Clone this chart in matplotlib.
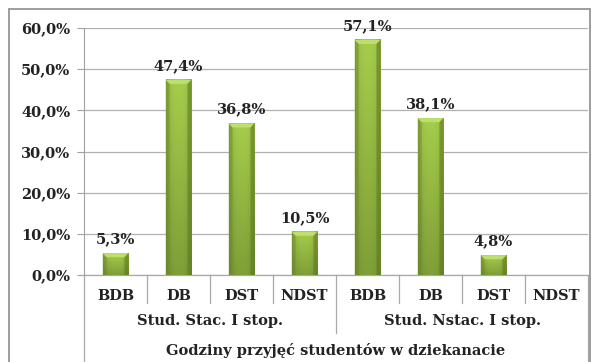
import matplotlib
matplotlib.use("Agg")
import matplotlib.pyplot as plt
import numpy as np
from matplotlib.colors import to_rgb
from matplotlib.patches import Polygon, Rectangle
from matplotlib.lines import Line2D

# Data
categories = ["BDB", "DB", "DST", "NDST", "BDB", "DB", "DST", "NDST"]
groups = ["Stud. Stac. I stop.", "Stud. Nstac. I stop."]
values = [5.3, 47.4, 36.8, 10.5, 57.1, 38.1, 4.8, 0.0]
title = "Godziny przyjęć studentów w dziekanacie"

plt.rcParams["font.family"] = "DejaVu Serif"
plt.rcParams["font.weight"] = "bold"

W, H = 593, 362
fig = plt.figure(figsize=(W / 100, H / 100), dpi=100)
ax = fig.add_axes([84 / W, 1 - 275 / H, (588 - 84) / W, (275 - 28) / H])

n = len(categories)
x = np.arange(n)
bw = 0.41
ax.set_xlim(-0.5, n - 0.5)
ax.set_ylim(0, 60)

# bar body: lighter at the top, darker towards the base and the side edges
top_c = np.array(to_rgb("#a6cd4c"))
bot_c = np.array(to_rgb("#7f9f38"))
vy = np.linspace(0, 1, 64)[:, None, None]          # 0 = top row
body = top_c * (1 - vy) + bot_c * vy
hx = np.linspace(-1, 1, 32)
side = 1 - 0.18 * np.abs(hx) ** 3
body = np.clip(body * side[None, :, None], 0, 1)

px_x = n / (588 - 84)            # data units per pixel, x
px_y = 60 / (275 - 28)           # data units per pixel, y
bev = 4

for xi, v in zip(x, values):
    if v <= 0:
        continue
    x0, x1 = xi - bw / 2, xi + bw / 2
    ax.imshow(body, aspect="auto", extent=(x0, x1, 0, v), origin="upper",
              zorder=3, interpolation="bilinear")
    dx, dy = bev * px_x, bev * px_y
    ax.add_patch(Polygon([(x0, v), (x1, v), (x1 - dx, v - dy), (x0 + dx, v - dy)],
                         closed=True, facecolor="#bde06c", edgecolor="none", zorder=4))
    ax.add_patch(Polygon([(x0, 0), (x0, v), (x0 + dx, v - dy), (x0 + dx, 0)],
                         closed=True, facecolor="#6e8c2c", edgecolor="none",
                         alpha=0.45, zorder=4))
    ax.add_patch(Polygon([(x1, 0), (x1, v), (x1 - dx, v - dy), (x1 - dx, 0)],
                         closed=True, facecolor="#5f7d1c", edgecolor="none",
                         alpha=0.55, zorder=4))
    ax.annotate(f"{v:.1f}%".replace(".", ","), xy=(xi, v), xytext=(0, 5),
                textcoords="offset points", ha="center", va="bottom",
                fontsize=10.5, fontweight="bold", color="#222222", zorder=5)

# y axis
yt = np.arange(0, 61, 10)
ax.set_yticks(yt)
ax.set_yticklabels([f"{t:.1f}%".replace(".", ",") for t in yt],
                   fontsize=10.5, fontweight="bold", color="#222222")
ax.tick_params(axis="y", length=5, color="#a0a0a0", pad=5)
ax.yaxis.grid(True, color="#b0b0b0", linewidth=0.9, zorder=0)
ax.set_axisbelow(True)
ax.set_xticks([])
for s in ["top", "right", "bottom"]:
    ax.spines[s].set_visible(False)
ax.spines["left"].set_color("#a0a0a0")
ax.set_facecolor("none")

# category axis with group labels
ytr = ax.get_xaxis_transform()
lc = "#a8a8a8"
ax.add_line(Line2D([-0.5, n - 0.5], [0, 0], transform=ytr, color=lc,
                   linewidth=0.9, clip_on=False))
frac = 1 / (275 - 28)
for i in range(n + 1):
    xb = i - 0.5
    if i in (0, n):
        y_end = -(365 - 275) * frac
    elif i == 4:
        y_end = -(333 - 275) * frac
    else:
        y_end = -(303 - 275) * frac
    ax.add_line(Line2D([xb, xb], [0, y_end], transform=ytr, color=lc,
                       linewidth=0.9, clip_on=False))
for xi, c in zip(x, categories):
    ax.text(xi, -(296 - 275) * frac, c, transform=ytr, ha="center", va="center",
            fontsize=10.5, fontweight="bold", color="#222222")
for gi, g in enumerate(groups):
    ax.text(gi * 4 + 1.5, -(321 - 275) * frac, g, transform=ytr, ha="center",
            va="center", fontsize=10.5, fontweight="bold", color="#222222")
ax.text((n - 1) / 2, -(350 - 275) * frac, title, transform=ytr, ha="center",
        va="center", fontsize=10.5, fontweight="bold", color="#222222")

# chart frame, open at the bottom edge of the image
fig.patches.append(Rectangle((9 / W, -0.05), (590 - 9) / W, 1.05 - 9 / H,
                             transform=fig.transFigure, fill=False,
                             edgecolor="#8c8c8c", linewidth=1.2))

fig.savefig("out.png", dpi=100)
